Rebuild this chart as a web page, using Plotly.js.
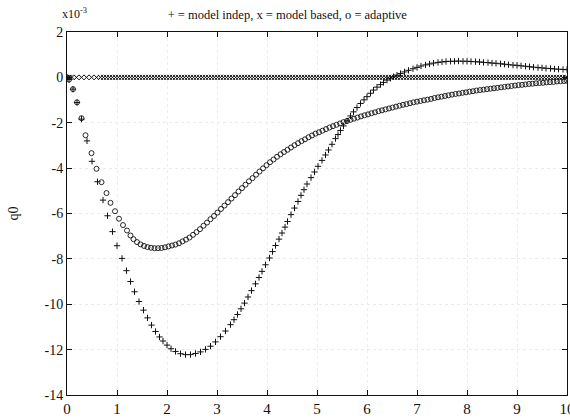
<!DOCTYPE html>
<html>
<head>
<meta charset="utf-8">
<script src="https://cdn.plot.ly/plotly-3.0.1.min.js"></script>
<style>html,body{margin:0;padding:0;background:#fff;}</style>
</head>
<body>
<div id="chart" style="width:570px;height:418px;"></div>
<script>
// "+" : model indep
var indX = [0,0.04,0.12,0.2,0.29,0.4,0.5,0.61,0.72,0.81,0.91,1.0,1.1,1.19,1.27,1.35,1.44,1.53,1.61,1.69,1.77,1.85,1.92,2.0,2.08,2.17,2.27,2.37,2.47,2.57,2.67,2.77,2.87,2.97,3.07,3.17,3.27,3.34,3.41,3.48,3.55,3.62,3.69,3.77,3.84,3.9,3.97,4.05,4.11,4.17,4.24,4.3,4.36,4.41,4.48,4.55,4.62,4.68,4.74,4.8,4.88,4.95,5.02,5.1,5.17,5.23,5.3,5.37,5.42,5.47,5.53,5.6,5.67,5.73,5.8,5.87,5.94,6.0,6.07,6.13,6.2,6.27,6.33,6.4,6.47,6.53,6.6,6.67,6.75,6.83,6.92,7.0,7.08,7.17,7.25,7.33,7.42,7.5,7.58,7.67,7.75,7.83,7.92,8.0,8.08,8.17,8.25,8.33,8.42,8.5,8.58,8.67,8.75,8.83,8.92,9.0,9.08,9.17,9.25,9.33,9.42,9.5,9.58,9.67,9.75,9.83,9.92,10.0];
var indY = [0,-0.1,-0.52,-1.11,-1.84,-2.8,-3.7,-4.6,-5.41,-6.1,-6.8,-7.42,-7.98,-8.52,-9.0,-9.45,-9.88,-10.26,-10.6,-10.92,-11.2,-11.44,-11.62,-11.8,-11.96,-12.08,-12.18,-12.22,-12.22,-12.17,-12.1,-11.99,-11.85,-11.66,-11.43,-11.18,-10.9,-10.68,-10.45,-10.2,-9.95,-9.68,-9.4,-9.1,-8.82,-8.55,-8.26,-7.96,-7.68,-7.41,-7.13,-6.86,-6.6,-6.35,-6.05,-5.76,-5.47,-5.2,-4.95,-4.7,-4.42,-4.17,-3.92,-3.66,-3.42,-3.2,-2.95,-2.7,-2.52,-2.34,-2.14,-1.92,-1.7,-1.52,-1.33,-1.15,-0.99,-0.85,-0.7,-0.56,-0.43,-0.32,-0.22,-0.12,-0.04,0.03,0.1,0.17,0.24,0.31,0.38,0.44,0.5,0.55,0.59,0.63,0.66,0.68,0.7,0.71,0.71,0.72,0.71,0.71,0.7,0.69,0.68,0.66,0.65,0.63,0.62,0.6,0.58,0.56,0.54,0.53,0.51,0.49,0.47,0.45,0.43,0.42,0.4,0.39,0.37,0.36,0.35,0.34];

// "x" : model based
var mbX = [0,0.03,0.06,0.1,0.19,0.29,0.39,0.49,0.59,0.67,
0.73,0.79,0.85,0.91,0.97,1.03,1.09,1.15,1.21,1.27,1.33,1.39,1.45,1.51,1.57,1.63,1.69,1.75,1.81,1.87,1.93,1.99,2.05,2.11,2.17,2.23,2.29,2.35,2.41,2.47,2.53,2.59,2.65,2.71,2.77,2.83,2.89,2.95,3.01,3.07,3.13,3.19,3.25,3.31,3.37,3.43,3.49,3.55,3.61,3.67,3.73,3.79,3.85,3.91,3.97,4.03,4.09,4.15,4.21,4.27,4.33,4.39,4.45,4.51,4.57,4.63,4.69,4.75,4.81,4.87,4.93,4.99,5.05,5.11,5.17,5.23,5.29,5.35,5.41,5.47,5.53,5.59,5.65,5.71,5.77,5.83,5.89,5.95,6.01,6.07,6.13,6.19,6.25,6.31,6.37,6.43,6.49,6.55,6.61,6.67,6.73,6.79,6.85,6.91,6.97,7.03,7.09,7.15,7.21,7.27,7.33,7.39,7.45,7.51,7.57,7.63,7.69,7.75,7.81,7.87,7.93,7.99,8.05,8.11,8.17,8.23,8.29,8.35,8.41,8.47,8.53,8.59,8.65,8.71,8.77,8.83,8.89,8.95,9.01,9.07,9.13,9.19,9.25,9.31,9.37,9.43,9.49,9.55,9.61,9.67,9.73,9.79,9.85,9.91,9.97,10.0];
var mbY = [0,0,0,0,0,0,0,0,0,0,
0,0,0,0,0,0,0,0,0,0,
0,0,0,0,0,0,0,0,0,0,
0,0,0,0,0,0,0,0,0,0,
0,0,0,0,0,0,0,0,0,0,
0,0,0,0,0,0,0,0,0,0,
0,0,0,0,0,0,0,0,0,0,
0,0,0,0,0,0,0,0,0,0,
0,0,0,0,0,0,0,0,0,0,
0,0,0,0,0,0,0,0,0,0,
0,0,0,0,0,0,0,0,0,0,
0,0,0,0,0,0,0,0,0,0,
0,0,0,0,0,0,0,0,0,0,
0,0,0,0,0,0,0,0,0,0,
0,0,0,0,0,0,0,0,0,0,
0,0,0,0,0,0,0,0,0,0,
0,0,0,0,0,0];

// "o" : adaptive
var adpX = [0,0.04,0.12,0.2,0.29,0.37,0.49,0.59,0.69,0.79,0.87,0.96,1.04,1.12,1.2,1.27,
1.33,1.4,1.47,1.54,1.61,1.68,1.75,1.82,1.89,1.96,2.03,2.1,2.17,2.24,2.31,2.38,2.45,2.52,2.59,2.66,2.73,2.8,2.87,2.94,3.01,3.08,3.15,3.22,3.29,3.36,3.43,3.5,3.57,3.64,3.71,3.78,3.85,3.92,3.99,4.06,4.13,4.2,4.27,4.34,4.41,4.48,4.55,4.62,4.69,4.76,4.83,4.9,4.97,5.04,5.11,5.18,5.25,5.32,5.39,5.46,5.53,5.6,5.67,5.74,5.81,5.88,5.95,6.02,6.09,6.16,6.23,6.3,6.37,6.44,6.51,6.58,6.65,6.72,6.79,6.86,6.93,7.0,7.07,7.14,7.21,7.28,7.35,7.42,7.49,7.56,7.63,7.7,7.77,7.84,7.91,7.98,8.05,8.12,8.19,8.26,8.33,8.4,8.47,8.54,8.61,8.68,8.75,8.82,8.89,8.96,9.03,9.1,9.17,9.24,9.31,9.38,9.45,9.52,9.59,9.66,9.73,9.8,9.87,9.94,10.0];
var adpY = [0,-0.1,-0.52,-1.1,-1.8,-2.55,-3.34,-4.03,-4.62,-5.1,-5.53,-5.9,-6.23,-6.51,-6.75,-6.97,
-7.13,-7.26,-7.36,-7.43,-7.48,-7.51,-7.53,-7.53,-7.52,-7.49,-7.45,-7.41,-7.37,-7.31,-7.23,-7.15,-7.06,-6.94,-6.82,-6.69,-6.54,-6.4,-6.25,-6.11,-5.96,-5.8,-5.65,-5.5,-5.34,-5.19,-5.03,-4.88,-4.73,-4.58,-4.44,-4.29,-4.15,-4.01,-3.87,-3.74,-3.62,-3.5,-3.39,-3.29,-3.19,-3.09,-2.99,-2.9,-2.81,-2.73,-2.64,-2.56,-2.48,-2.42,-2.35,-2.28,-2.21,-2.15,-2.09,-2.03,-1.97,-1.92,-1.87,-1.82,-1.77,-1.72,-1.67,-1.63,-1.58,-1.54,-1.49,-1.45,-1.41,-1.37,-1.33,-1.29,-1.25,-1.21,-1.18,-1.14,-1.1,-1.07,-1.04,-1.01,-0.98,-0.95,-0.91,-0.88,-0.85,-0.82,-0.79,-0.76,-0.73,-0.71,-0.68,-0.66,-0.63,-0.61,-0.58,-0.56,-0.54,-0.52,-0.5,-0.48,-0.46,-0.44,-0.42,-0.4,-0.38,-0.36,-0.34,-0.33,-0.31,-0.29,-0.28,-0.26,-0.25,-0.24,-0.22,-0.21,-0.2,-0.18,-0.17,-0.16,-0.15];

var xTicks = [0,1,2,3,4,5,6,7,8,9,10];
var xTickText = ['0','1','2','3','4','5','6','7','8','9','10'];
var yTicks = [-14,-12,-10,-8,-6,-4,-2,0,2];
var yTickText = ['-14','-12','-10','-8','-6','-4','-2','0','2'];

var serif = 'Liberation Serif, Times New Roman, serif';
var ink = '#111111';

var traces = [
  {x: indX, y: indY, type: 'scatter', mode: 'markers', name: 'model indep',
   marker: {symbol: 'cross-thin-open', size: 4.5, color: ink, line: {width: 1, color: ink}}},
  {x: mbX, y: mbY, type: 'scatter', mode: 'markers', name: 'model based',
   marker: {symbol: 'x-thin-open', size: 5, color: ink, line: {width: 1, color: ink}}},
  {x: adpX, y: adpY, type: 'scatter', mode: 'markers', name: 'adaptive',
   marker: {symbol: 'circle-open', size: 5, color: ink, line: {width: 0.9, color: ink}}}
];

var axisCommon = {
  showline: true, linecolor: ink, linewidth: 1, mirror: 'ticks',
  ticks: 'inside', ticklen: 5, tickwidth: 1, tickcolor: ink,
  showgrid: true, gridcolor: '#ececec', griddash: 'dot', gridwidth: 1,
  zeroline: false, tickmode: 'array', ticklabeloverflow: 'allow'
};

var layout = {
  width: 570, height: 418,
  margin: {l: 67, r: 3, t: 32, b: 23},
  paper_bgcolor: '#ffffff', plot_bgcolor: '#ffffff',
  showlegend: false,
  title: {text: '+ = model indep, x = model based, o = adaptive',
          font: {family: serif, size: 12.5, color: ink},
          xref: 'container', x: 0.504, xanchor: 'center',
          yref: 'container', y: 0.966, yanchor: 'middle'},
  xaxis: Object.assign({}, axisCommon, {
    range: [0, 10], tickvals: xTicks, ticktext: xTickText,
    tickfont: {family: serif, size: 15, color: ink}
  }),
  yaxis: Object.assign({}, axisCommon, {
    range: [-14, 2], tickvals: yTicks, ticktext: yTickText,
    tickfont: {family: serif, size: 14, color: ink}
  }),
  annotations: [
    {text: 'x10<sup>-3</sup>', xref: 'paper', yref: 'paper', x: -0.014, y: 1.05,
     xanchor: 'left', yanchor: 'middle', showarrow: false,
     font: {family: serif, size: 12, color: ink}},
    {text: 'q0', xref: 'paper', yref: 'paper', x: -0.108, y: 0.5,
     xanchor: 'center', yanchor: 'middle', textangle: -90, showarrow: false,
     font: {family: serif, size: 14, color: ink}}
  ]
};

Plotly.newPlot('chart', traces, layout, {staticPlot: true, displayModeBar: false});
</script>
</body>
</html>
